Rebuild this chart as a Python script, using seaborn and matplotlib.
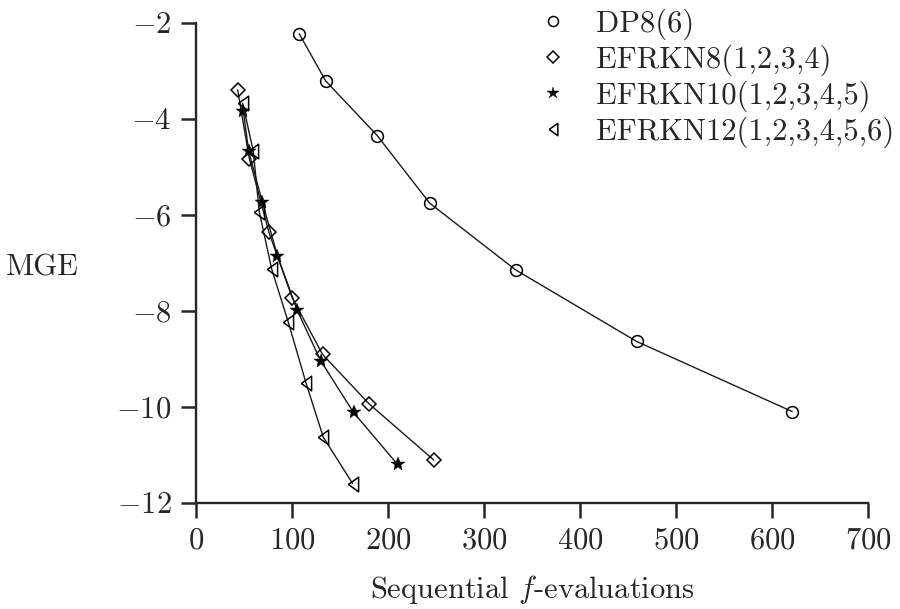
import numpy as np
import pandas as pd
import matplotlib
matplotlib.use('Agg')
import matplotlib.pyplot as plt
import seaborn as sns
from matplotlib.lines import Line2D

# data (sequential f-evaluations vs MGE)
dp8_x = [107.5, 135, 188.7, 243.5, 333, 459, 621]
dp8_y = [-2.23, -3.21, -4.35, -5.76, -7.15, -8.64, -10.10]

efrkn8_x = [43.4, 55.5, 76.0, 100.2, 131.8, 180.3, 247.7]
efrkn8_y = [-3.40, -4.83, -6.37, -7.73, -8.91, -9.94, -11.11]

efrkn10_x = [49.2, 54.8, 69.0, 84.8, 105.4, 129.8, 164.1, 209.9]
efrkn10_y = [-3.83, -4.67, -5.73, -6.85, -7.99, -9.04, -10.12, -11.20]

efrkn12_x = [48.6, 59.6, 65.9, 78.8, 96.0, 114.5, 132.5, 163.1]
efrkn12_y = [-3.68, -4.67, -5.94, -7.13, -8.23, -9.50, -10.63, -11.60]

labels = ['DP8(6)', 'EFRKN8(1,2,3,4)', 'EFRKN10(1,2,3,4,5)', 'EFRKN12(1,2,3,4,5,6)']
xs = [dp8_x, efrkn8_x, efrkn10_x, efrkn12_x]
ys = [dp8_y, efrkn8_y, efrkn10_y, efrkn12_y]

sns.set_style('ticks')
plt.rcParams['font.family'] = 'cmr10'
plt.rcParams['mathtext.fontset'] = 'cm'
plt.rcParams['axes.formatter.use_mathtext'] = True
plt.rcParams['axes.unicode_minus'] = True

fig = plt.figure(figsize=(9, 6.09), dpi=100)
ax = fig.add_axes([0.2178, 0.1745, 0.7466, 0.7882])

# narrow left-pointing triangle like the LaTeX one
tri_left = [(-0.7, 0), (0.7, 1), (0.7, -1), (-0.7, 0)]

# marker styles per method
styles = [
    dict(marker='o', markersize=8.5, markerfacecolor='none', markeredgecolor='black', markeredgewidth=1.1),
    dict(marker='D', markersize=7.3, markerfacecolor='none', markeredgecolor='black', markeredgewidth=1.1),
    dict(marker='*', markersize=10.5, markerfacecolor='black', markeredgecolor='black', markeredgewidth=0.3),
    dict(marker=tri_left, markersize=10.5, markerfacecolor='none', markeredgecolor='black', markeredgewidth=1.1),
]

for lab, x, y, st in zip(labels, xs, ys, styles):
    d = pd.DataFrame({'evals': x, 'mge': y})
    sns.lineplot(data=d, x='evals', y='mge', ax=ax, color='#1a1a1a', linewidth=1.0,
                 sort=False, legend=False, **st)

ax.set_xlim(0, 700)
ax.set_ylim(-12, -2)
ax.set_xticks(range(0, 701, 100))
ax.set_yticks(range(-12, -1, 2))
sns.despine(ax=ax)
for s in ['left', 'bottom']:
    ax.spines[s].set_linewidth(1.7)
ax.tick_params(direction='out', length=10.8, width=1.8, labelsize=22, pad=7)

ax.set_xlabel('Sequential $f$-evaluations', fontsize=22, labelpad=13)
ax.set_ylabel('MGE', fontsize=22, rotation=0, ha='center', va='center')
ax.yaxis.set_label_coords(-0.229, 0.49)

handles = [Line2D([], [], linestyle='none', color='black', **dict(st, markersize=st['markersize'] * 0.85))
           for st in styles]
ax.legend(handles, labels, loc='upper right', bbox_to_anchor=(1.057, 1.055), frameon=False,
          fontsize=22, handlelength=1.0, handletextpad=0.9, labelspacing=0.15, borderaxespad=0)

fig.savefig('out.png', dpi=100)
